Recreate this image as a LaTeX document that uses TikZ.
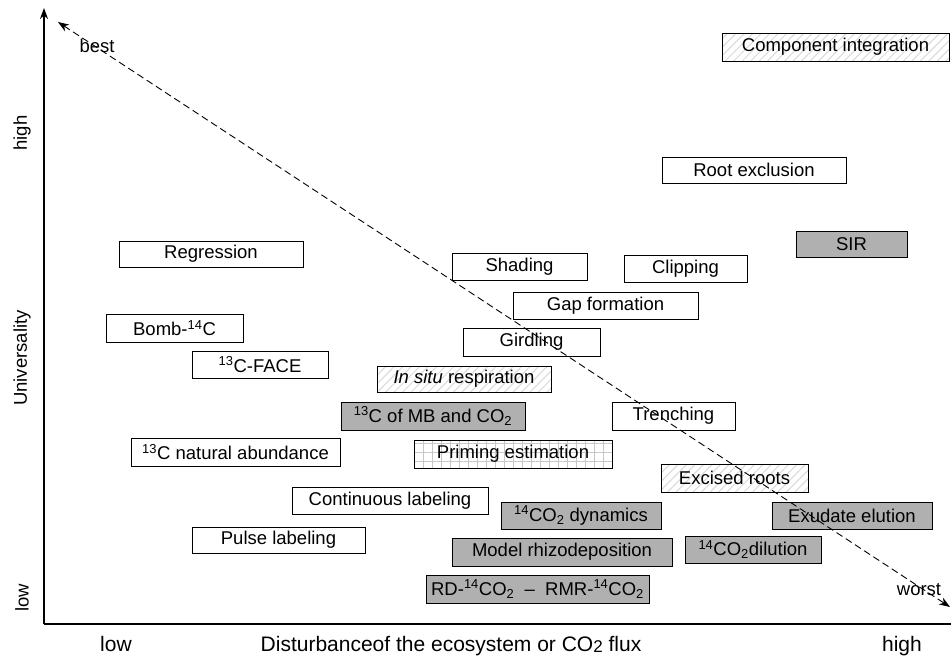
\documentclass[tikz,border=0pt]{standalone}
\usepackage{fontspec}
\setmainfont{Liberation Sans}
\usetikzlibrary{arrows.meta,patterns.meta}
\definecolor{boxgray}{RGB}{176,176,176}
\newcommand{\bx}[7]{%
  \node[box,#6,minimum width={(#4-#2)*1pt},minimum height={(#5-#3)*1pt}] (#1) at ({(#2+#4)/2},{(#3+#5)/2}) {#7};}
\begin{document}
\begin{tikzpicture}[x=1pt,y=-1pt,
  box/.style={draw=black,line width=0.9pt,inner sep=0pt,font=\fontsize{18.5}{20}\selectfont},
  plain/.style={fill=white},
  grayf/.style={fill=boxgray},
  hatchf/.style={pattern={Lines[angle=45,distance=6pt,line width=1pt]},pattern color=black!15},
  gridf/.style={pattern={Hatch[angle=0,distance=9pt,line width=0.5pt]},pattern color=black!22},
  lbl/.style={font=\fontsize{18.5}{20}\selectfont,inner sep=0pt},
  xlbl/.style={font=\fontsize{21}{23}\selectfont,inner sep=0pt,anchor=base},
  axis/.style={line width=2pt}
]
\useasboundingbox (0,0) rectangle (951,659);
% axes
\coordinate (origin) at (44,624);
\coordinate (ytop) at (44,8);
\coordinate (xend) at (951,624);
\draw[axis,-{Stealth[length=11pt,width=8pt]}] (origin) -- (ytop);
\draw[axis] (origin) -- (xend);
% axis labels
\node[lbl,rotate=90] (yhigh) at (22,133) {high};
\node[lbl,rotate=90] (yuni) at (22,358) {Universality};
\node[lbl,rotate=90] (ylow) at (22,598) {low};
\node[xlbl] (xlow) at (116,651) {low};
\node[xlbl] (xdist) at (451,651) {Disturbanceof the ecosystem or CO{\raisebox{-0.15ex}{\fontsize{17}{17}\selectfont 2}} flux};
\node[xlbl] (xhigh) at (902,651) {high};
% boxes
\bx{ci}{722}{33}{949}{61}{hatchf}{Component integration}
\bx{re}{662}{157}{846}{183}{plain}{Root exclusion}
\bx{sir}{796}{231}{907}{257}{grayf}{SIR}
\bx{reg}{119}{241}{303}{267}{plain}{Regression}
\bx{sha}{452}{253}{587}{280}{plain}{Shading}
\bx{cli}{624}{255}{747}{282}{plain}{Clipping}
\bx{gap}{513}{292}{698}{319}{plain}{Gap formation}
\bx{bomb}{106}{314}{243}{342}{plain}{Bomb-\textsuperscript{14}C}
\bx{gird}{463}{328}{600}{356}{plain}{Girdling}
\bx{face}{192}{351}{328}{378}{plain}{\textsuperscript{13}C-FACE}
\bx{insitu}{377}{366}{551}{392}{hatchf}{\textit{In situ} respiration}
\bx{mb}{341}{402}{525}{430}{grayf}{\textsuperscript{13}C of MB and CO\textsubscript{2}}
\bx{tren}{612}{402}{735}{430}{plain}{Trenching}
\bx{nat}{131}{438}{340}{466}{plain}{\textsuperscript{13}C natural abundance}
\bx{prim}{414}{440}{612}{468}{gridf}{Priming estimation}
\bx{exc}{661}{464}{808}{492}{hatchf}{Excised roots}
\bx{cont}{292}{487}{488}{514}{plain}{Continuous labeling}
\bx{dyn}{501}{502}{661}{529}{grayf}{\textsuperscript{14}CO\textsubscript{2} dynamics}
\bx{exu}{772}{502}{932}{529}{grayf}{Exudate elution}
\bx{pulse}{192}{527}{365}{553}{plain}{Pulse labeling}
\bx{model}{452}{538}{672}{566}{grayf}{Model rhizodeposition}
\bx{dil}{685}{536}{821}{563}{grayf}{\textsuperscript{14}CO\textsubscript{2}dilution}
\bx{rd}{426}{575}{649}{603}{grayf}{RD-\textsuperscript{14}CO\textsubscript{2} \ -- \ RMR-\textsuperscript{14}CO\textsubscript{2}}
% best-worst diagonal
\coordinate (bestpt) at (58,22);
\coordinate (worstpt) at (950,607);
\draw[line width=0.9pt,dash pattern=on 7pt off 4pt,{Stealth[length=11pt,width=8pt]}-{Stealth[length=11pt,width=8pt]}] (bestpt) -- (worstpt);
\node[lbl] (best) at (97,46) {best};
\node[lbl] (worst) at (919,590) {worst};
\end{tikzpicture}
\end{document}
